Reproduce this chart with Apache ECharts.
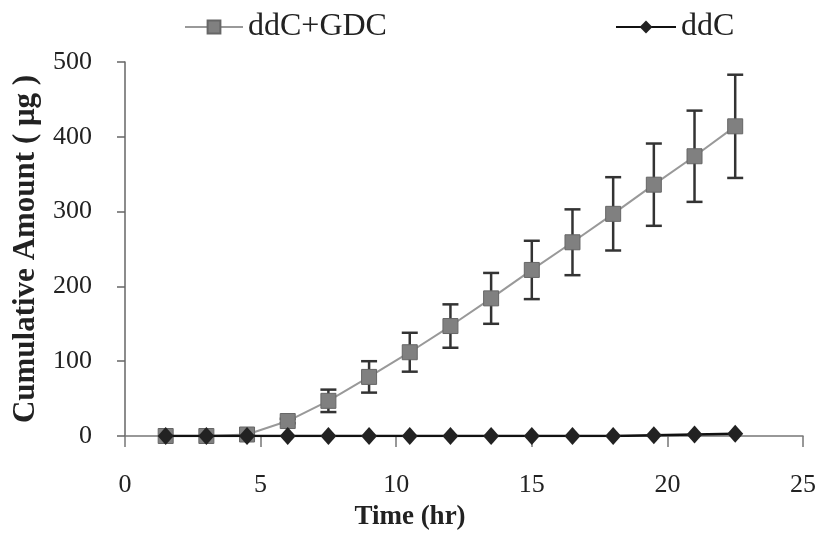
<!DOCTYPE html>
<html>
<head>
<meta charset="utf-8">
<script src="https://cdn.jsdelivr.net/npm/echarts@6/dist/echarts.min.js"></script>
<style>
  html, body { margin: 0; padding: 0; background: #fff; }
  #chart { width: 820px; height: 556px; }
</style>
</head>
<body>
<div id="chart"></div>
<script>
// 时间点 (hr)
var times = [1.5, 3, 4.5, 6, 7.5, 9, 10.5, 12, 13.5, 15, 16.5, 18, 19.5, 21, 22.5];
// ddC+GDC 平均值和误差
var gdcMean = [0, 0, 2, 20, 47, 79, 112, 147, 184, 222, 259, 297, 336, 374, 414];
var gdcErr = [0, 0, 1, 3, 15, 21, 26, 29, 34, 39, 44, 49, 55, 61, 69];
// ddC 平均值
var ddcMean = [0, 0, 0, 0, 0, 0, 0, 0, 0, 0, 0, 0, 1, 2, 3];
var xTicks = [0, 5, 10, 15, 20, 25];
var yTicks = [0, 100, 200, 300, 400, 500];

var serif = '"Liberation Serif", "DejaVu Serif", serif';

var chart = echarts.init(document.getElementById('chart'));

function pairs(xs, ys) {
    var out = [];
    for (var i = 0; i < xs.length; i++) {
        out.push([xs[i], ys[i]]);
    }
    return out;
}

var errData = [];
for (var i = 0; i < times.length; i++) {
    errData.push([times[i], gdcMean[i] - gdcErr[i], gdcMean[i] + gdcErr[i]]);
}

var option = {
    backgroundColor: '#fff',
    animation: false,
    grid: { left: 125, right: 17, top: 62, bottom: 120, outerBoundsMode: 'none' },
    legend: [{
        data: ['ddC+GDC'],
        left: 179, top: 6,
        itemWidth: 58, itemHeight: 16, itemGap: 8,
        textStyle: { fontFamily: serif, fontSize: 32, color: '#222' }
    }, {
        data: ['ddC'],
        left: 610, top: 6,
        itemWidth: 60, itemHeight: 16, itemGap: 6,
        textStyle: { fontFamily: serif, fontSize: 32, color: '#222' }
    }],
    xAxis: {
        type: 'value',
        min: xTicks[0], max: xTicks[xTicks.length - 1], interval: 5,
        name: 'Time (hr)',
        nameLocation: 'middle',
        nameGap: 68,
        nameTextStyle: { fontFamily: serif, fontSize: 27, fontWeight: 'bold', color: '#222', padding: [0, 108, 0, 0] },
        axisLine: { show: true, lineStyle: { color: '#777', width: 1.5 } },
        axisTick: { show: true, length: 11, lineStyle: { color: '#777', width: 1.5 } },
        axisLabel: { fontFamily: serif, fontSize: 26, color: '#222', margin: 36 },
        splitLine: { show: false }
    },
    yAxis: {
        type: 'value',
        min: yTicks[0], max: yTicks[yTicks.length - 1], interval: 100,
        name: 'Cumulative Amount ( μg )',
        nameLocation: 'middle',
        nameGap: 84,
        nameTextStyle: { fontFamily: serif, fontSize: 31, fontWeight: 'bold', color: '#222' },
        axisLine: { show: true, lineStyle: { color: '#666', width: 1.5 } },
        axisTick: { show: true, length: 8, lineStyle: { color: '#666', width: 1.5 } },
        axisLabel: { fontFamily: serif, fontSize: 26, color: '#222', margin: 33 },
        splitLine: { show: false }
    },
    series: [{
        name: 'ddC+GDC',
        type: 'line',
        data: pairs(times, gdcMean),
        symbol: 'rect',
        symbolSize: 15,
        lineStyle: { color: '#999', width: 2 },
        itemStyle: { color: '#808080', borderColor: '#666', borderWidth: 1 },
        z: 2
    }, {
        name: 'errbar',
        type: 'custom',
        data: errData,
        renderItem: function (params, api) {
            var x = api.value(0);
            var lo = api.coord([x, api.value(1)]);
            var hi = api.coord([x, api.value(2)]);
            if (hi[1] >= lo[1] - 1) return;
            var cap = 8;
            var st = { stroke: '#333', lineWidth: 2.5 };
            return {
                type: 'group',
                children: [
                    { type: 'line', shape: { x1: lo[0], y1: lo[1], x2: hi[0], y2: hi[1] }, style: st },
                    { type: 'line', shape: { x1: lo[0] - cap, y1: lo[1], x2: lo[0] + cap, y2: lo[1] }, style: st },
                    { type: 'line', shape: { x1: hi[0] - cap, y1: hi[1], x2: hi[0] + cap, y2: hi[1] }, style: st }
                ]
            };
        },
        z: 1
    }, {
        name: 'ddC',
        type: 'line',
        data: pairs(times, ddcMean),
        symbol: 'diamond',
        symbolSize: [16, 18],
        lineStyle: { color: '#111', width: 2.5 },
        itemStyle: { color: '#222' },
        z: 3
    }]
};

chart.setOption(option);
</script>
</body>
</html>
